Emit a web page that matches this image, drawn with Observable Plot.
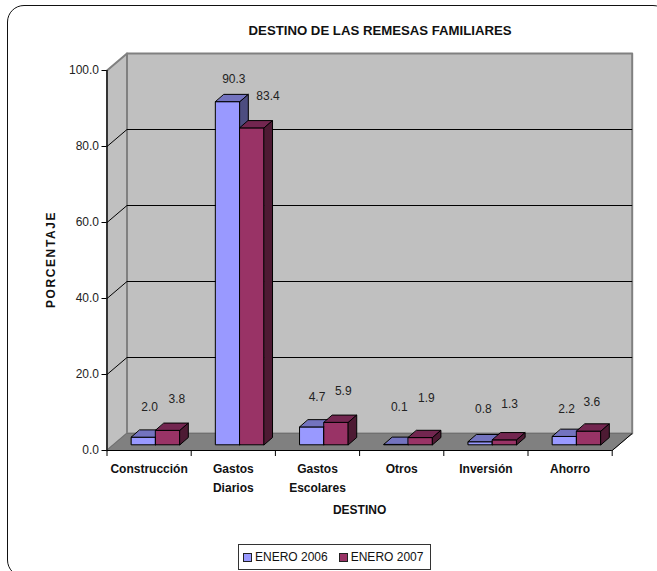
<!DOCTYPE html>
<html>
<head>
<meta charset="utf-8">
<script src="https://cdn.jsdelivr.net/npm/d3@7"></script>
<script src="https://cdn.jsdelivr.net/npm/@observablehq/plot@0.6"></script>
<style>
  html, body { margin: 0; padding: 0; background: #fff; overflow: hidden; }
  #page { position: relative; width: 657px; height: 571px; overflow: hidden; font-family: "Liberation Sans", Arial, sans-serif; }
  #frame { position: absolute; left: 7px; top: 5px; width: 663px; height: 572px; border: 1.5px solid #111; border-radius: 17px; box-sizing: border-box; }
  #chart { position: absolute; left: 0; top: 0; }
  #legend { position: absolute; left: 238px; top: 544px; width: 193px; height: 26px; box-sizing: border-box; border: 1px solid #333; background: #fff; font-size: 12px; color: #111; display: flex; align-items: center; padding-left: 4px; white-space: nowrap; }
  #legend i { flex: none; display: inline-block; width: 7px; height: 7px; border: 1px solid #222; margin-right: 3px; }
  #legend span { flex: none; margin-right: 11px; }
  #legend span:last-child { margin-right: 0; }
</style>
</head>
<body>
<div id="page">
  <div id="frame"></div>
  <div id="chart"></div>
  <div id="legend"></div>
</div>
<script>
const categories = ["Construcción", "Gastos\nDiarios", "Gastos\nEscolares", "Otros", "Inversión", "Ahorro"];
const seriesNames = ["ENERO 2006", "ENERO 2007"];
const enero2006 = [2.0, 90.3, 4.7, 0.1, 0.8, 2.2];
const enero2007 = [3.8, 83.4, 5.9, 1.9, 1.3, 3.6];
const yTicks = [0, 20, 40, 60, 80, 100];

// Per-series colours: front, top, side faces of the bars.
const faceColors = [
  {front: "#9999FF", top: "#7373BF", side: "#4D4D80"},
  {front: "#993366", top: "#732650", side: "#4D1A33"}
];

// Oblique projection, expressed in data units of the two linear scales.
const wallDx = 0.2375, wallDy = 4.47;     // depth of the floor and side wall
const barDx0 = 0.0713, barDy0 = 1.5;      // where a bar's front face sits in the depth
const barDx1 = 0.171,  barDy1 = 3.42;     // where a bar's back face sits in the depth
const barWidth = 0.2874, barGap = 0.22;   // bar width and left gap inside a category

const rows = categories.flatMap((c, i) => [enero2006, enero2007].map((vals, s) => ({
  i, s, value: vals[i], category: c
})));

const faces = rows.flatMap(r => {
  const x0 = r.i + barGap + r.s * barWidth, x1 = x0 + barWidth;
  const c = faceColors[r.s], id = `${r.i}-${r.s}`;
  const yb = barDy0, yt = r.value + barDy0;
  const poly = (face, pts) => pts.map(([x, y]) => ({id: `${id}-${face}`, x, y, fill: c[face]}));
  return [
    ...poly("front", [[x0 + barDx0, yb], [x1 + barDx0, yb], [x1 + barDx0, yt], [x0 + barDx0, yt]]),
    ...poly("top", [[x0 + barDx0, yt], [x1 + barDx0, yt], [x1 + barDx1, r.value + barDy1], [x0 + barDx1, r.value + barDy1]]),
    ...poly("side", [[x1 + barDx0, yb], [x1 + barDx1, barDy1], [x1 + barDx1, r.value + barDy1], [x1 + barDx0, yt]])
  ];
});

const nCat = categories.length, yMax = yTicks[yTicks.length - 1];
const walls = [
  {id: "back", fill: "#C0C0C0", pts: [[wallDx, wallDy], [nCat + wallDx, wallDy], [nCat + wallDx, yMax + wallDy], [wallDx, yMax + wallDy]]},
  {id: "left", fill: "#C0C0C0", pts: [[0, 0], [wallDx, wallDy], [wallDx, yMax + wallDy], [0, yMax]]}
].flatMap(w => w.pts.map(([x, y]) => ({id: w.id, fill: w.fill, x, y})));
const floor = [[0, 0], [nCat, 0], [nCat + wallDx, wallDy], [wallDx, wallDy]].map(([x, y]) => ({x, y}));

// Label placement, as pixel nudges above each bar's top.
const labelNudges = [
  [[6, -30], [9, -31]], [[6, -23], [16, -32]], [[5, -30], [7, -31]],
  [[3, -37], [6, -39]], [[3, -33], [5, -36]], [[2, -27], [3, -29]]
];
const labelMarks = rows.map(r => {
  const [dx, dy] = labelNudges[r.i][r.s];
  return Plot.text([r], {
    x: d => d.i + barGap + (d.s + 0.5) * barWidth + barDx0,
    y: d => d.value + barDy0,
    text: d => d.value.toFixed(1),
    dx, dy, fontSize: 12, fill: "#222"
  });
});

const chart = Plot.plot({
  width: 657, height: 571,
  marginLeft: 106.5, marginRight: 45.3, marginTop: 70, marginBottom: 121,
  style: {fontFamily: '"Liberation Sans", Arial, sans-serif', background: "transparent", overflow: "visible"},
  x: {type: "linear", domain: [0, nCat], axis: null},
  y: {type: "linear", domain: [0, yMax], axis: null},
  marks: [
    Plot.line(walls, {x: "x", y: "y", z: "id", fill: "fill", stroke: "#808080", strokeWidth: 2, curve: "linear-closed"}),
    Plot.line(floor, {x: "x", y: "y", fill: "#808080", stroke: "#707070", strokeWidth: 1, curve: "linear-closed"}),
    Plot.link(yTicks.slice(1, -1), {x1: wallDx, x2: nCat + wallDx, y1: d => d + wallDy, y2: d => d + wallDy, stroke: "#000", strokeWidth: 1}),
    Plot.link(yTicks.slice(1, -1), {x1: 0, x2: wallDx, y1: d => d, y2: d => d + wallDy, stroke: "#000", strokeWidth: 1}),
    Plot.link([0], {x1: nCat, x2: nCat + wallDx, y1: 0, y2: wallDy, stroke: "#000", strokeWidth: 1}),
    Plot.line(faces, {x: "x", y: "y", z: "id", fill: "fill", stroke: "#000", strokeWidth: 1, curve: "linear-closed"}),
    Plot.ruleX([0], {stroke: "#000", strokeWidth: 1.2}),
    Plot.ruleY([0], {stroke: "#000", strokeWidth: 1.2}),
    Plot.axisY({ticks: yTicks, tickFormat: d => d.toFixed(1), tickSize: 5, tickPadding: 3, fontSize: 12, label: null, stroke: "#000", fill: "#222"}),
    Plot.axisX({ticks: d3.range(nCat + 1), tickFormat: () => "", tickSize: 6, label: null, stroke: "#000"}),
    Plot.axisX({ticks: categories.map((_, i) => i + 0.5), tickFormat: d => categories[d - 0.5], tickSize: 0, tickPadding: 9, fontSize: 12, fontWeight: "bold", lineHeight: 1.6, lineAnchor: "top", label: null, fill: "#111"}),
    ...labelMarks,
    Plot.text(["DESTINO DE LAS REMESAS FAMILIARES"], {frameAnchor: "top", dx: 20.5, dy: -45, fontSize: 13.2, fontWeight: "bold", fill: "#111"}),
    Plot.text(["DESTINO"], {frameAnchor: "bottom", dy: 63, fontSize: 12, fontWeight: "bold", fill: "#111"}),
    Plot.text(["PORCENTAJE"], {frameAnchor: "left", textAnchor: "middle", dx: -56, dy: -1, rotate: -90, fontSize: 12, fontWeight: "bold", fill: "#111"})
  ]
});
d3.select(chart).selectAll("text").filter(function () { return this.textContent === "PORCENTAJE"; }).style("letter-spacing", "1.6px");
document.getElementById("chart").appendChild(chart);

const legend = d3.select("#legend");
seriesNames.forEach((name, i) => {
  legend.append("i").style("background", faceColors[i].front);
  legend.append("span").text(name);
});
</script>
</body>
</html>
